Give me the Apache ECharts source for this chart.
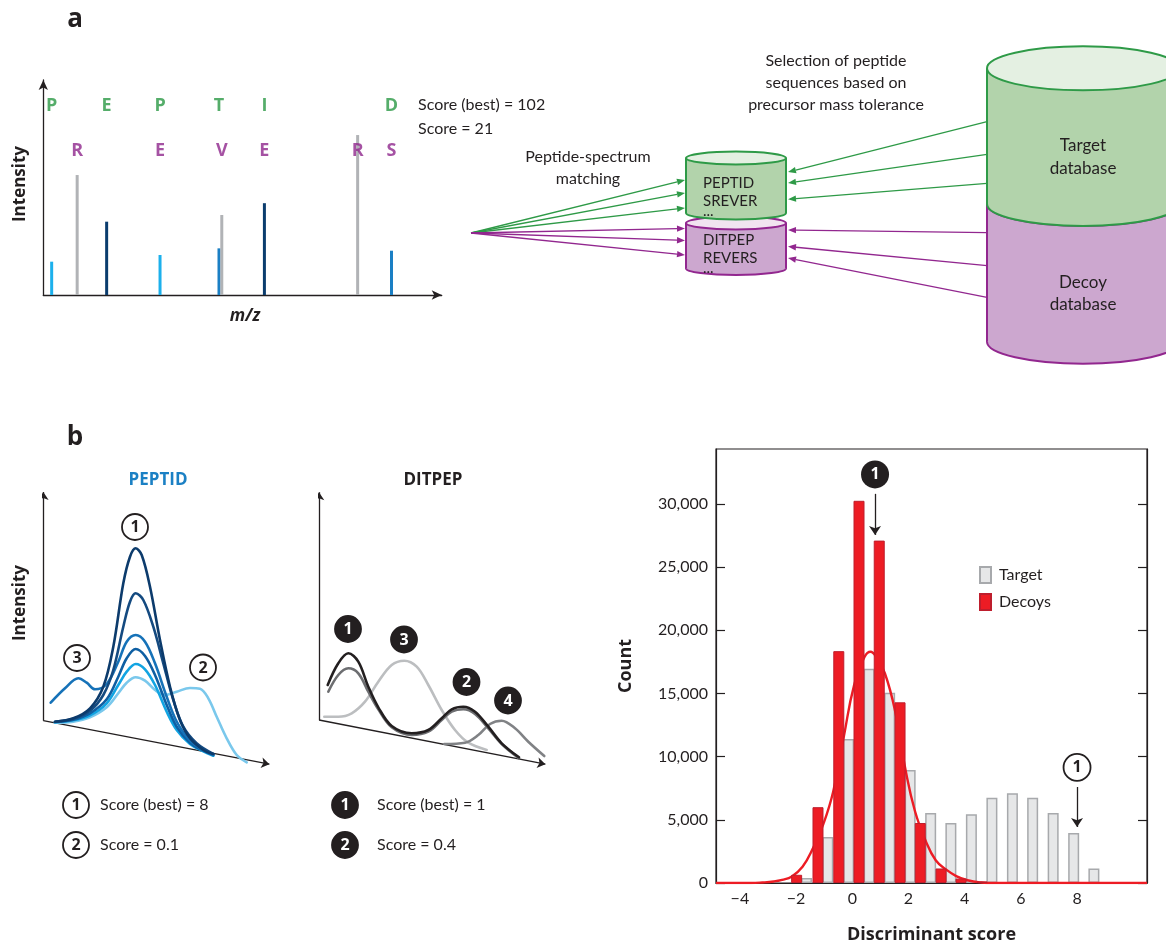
<!DOCTYPE html>
<html>
<head>
<meta charset="utf-8">
<title>Target-decoy search</title>
<script src="https://cdn.jsdelivr.net/npm/echarts@6/dist/echarts.min.js"></script>
<style>
  html, body { margin: 0; padding: 0; background: #fff; }
  #main { width: 1166px; height: 945px; }
</style>
</head>
<body>
<div id="main"></div>
<script>
const FONT = 'Lato, "Open Sans", "DejaVu Sans", sans-serif';
const HEAVY = '"Open Sans", Lato, sans-serif';
const INK = '#231f20';
const GREEN = '#2e9a47';
const PURPLE = '#92278f';

// ---- panel a: spectrum (m/z and intensity in arbitrary units 0-100)
let specMz = [2.1, 8.5, 15.9, 29.3, 44.1, 44.8, 55.5, 78.9, 87.4];
let specIntensity = [15.5, 55.8, 34.1, 18.6, 21.7, 37.2, 42.7, 74.4, 20.6];
let specKind = ['light', 'gray', 'dark', 'light', 'mid', 'gray', 'dark', 'gray', 'mid'];
let targetLetters = ['P', 'E', 'P', 'T', 'I', 'D'];
let targetLetterMz = [2.1, 15.9, 29.3, 44.1, 55.5, 87.4];
let decoyLetters = ['R', 'E', 'V', 'E', 'R', 'S'];
let decoyLetterMz = [8.5, 29.3, 44.8, 55.5, 78.9, 87.4];

// ---- panel b left: PEPTID chromatogram traces (time, intensity) incl. slanted baseline
let peptidCurve1 = [[11.7,-1.0],[30,2.4],[46.7,12.4],[60,34],[70,74],[80,137.4],[86.7,164],[92.4,172.4],[98.4,165.7],[106.7,134],[116.7,80.7],[126.7,34],[136.7,0.7],[146.7,-17.6],[160,-29.3],[170,-33.3]];
let peptidCurve2 = [[11.7,-1.0],[30,2.0],[46.7,10.0],[60,25.7],[70,50.7],[80,94],[86.7,119],[92.4,127.4],[100,120.7],[110,94],[120,57.4],[130,20.7],[140,-6.0],[153.3,-22.6],[170,-33.3]];
let peptidCurve3 = [[7.4,18.0],[21.7,32.4],[35,42.4],[43.4,38.0],[51.7,31.4],[63.4,36.7],[75,59],[83.4,79],[92.4,85.7],[101.7,79],[111.7,57.4],[123.4,24.0],[133.4,-1.0],[146.7,-20.0],[160,-29.3],[170,-34.0]];
let peptidCurve4 = [[11.7,-1.3],[30,1.0],[46.7,7.4],[63.4,21.4],[75,44],[83.4,62.4],[92.4,71.7],[101.7,64.7],[111.7,45.7],[123.4,15.7],[133.4,-6.0],[146.7,-22.0],[160,-30.0],[170,-34.3]];
let peptidCurve5 = [[11.7,-1.6],[30,0.4],[46.7,5.4],[63.4,17.4],[75,35.7],[83.4,49],[92.4,56.7],[101.7,51.4],[111.7,35.7],[123.4,9.0],[133.4,-9.3],[146.7,-23.3],[160,-30.6],[170,-35.0]];
let peptidCurve6 = [[11.7,-2.0],[30,-1.0],[46.7,3.4],[63.4,13.4],[75,27.4],[83.4,38],[92.4,43.4],[101.7,40],[111.7,30.7],[121.7,25.7],[133.4,29],[146.7,32.7],[156.7,32],[165,22.4],[173.4,4.0],[183.4,-17.6],[193.4,-34.3],[203.4,-41.6]];

// ---- panel b middle: DITPEP traces
let ditpepCurve1 = [[8.7,35],[19.3,56.7],[29.3,66.7],[39.3,58.3],[49.3,33.3],[59.3,12.7],[72.7,-6.0],[92.7,-13.3],[109.3,-10.0],[122.7,1.7],[132.7,10.7],[144.3,13.3],[156,8.3],[169.3,-6.7],[182.7,-23.3],[200,-37.3]];
let ditpepCurve2 = [[9.3,28.3],[19.3,45],[29.3,51.7],[39.3,46.7],[49.3,28.3],[59.3,10.7],[72.7,-7.3],[92.7,-15.0],[109.3,-11.7],[122.7,0],[132.7,8.3],[144.3,10.7],[156,6.0],[169.3,-8.3],[182.7,-24.0],[200,-38.3]];
let ditpepCurve3 = [[5.3,3.3],[19.3,3.3],[32.7,6.7],[46,18.3],[59.3,38.3],[72.7,55],[85.3,59.3],[97.7,53.3],[109.3,35],[122.7,10],[136,-10],[149.3,-22.7],[167.7,-30]];
let ditpepCurve4 = [[125.3,-24.0],[146,-22.7],[159.3,-15.0],[171,-4.0],[182.7,-0.7],[196,-8.3],[209.3,-21.7],[225.3,-36.0]];

// ---- panel b right: histogram of discriminant scores
let targetScore = [-1.63, -0.87, -0.13, 0.60, 1.33, 2.06, 2.79, 3.51, 4.24, 4.97, 5.70, 6.42, 7.15, 7.88, 8.60];
let targetCount = [400, 3650, 11400, 16950, 15050, 8950, 5550, 4750, 5450, 6750, 7100, 6750, 5550, 3950, 1150];
let decoyScore = [-1.98, -1.22, -0.48, 0.24, 0.96, 1.70, 2.42, 3.16, 3.87, 4.62];
let decoyCount = [650, 6000, 18350, 30250, 27100, 14300, 4750, 1150, 350, 120];
let fitScore = [-4.85, -3.6, -3.2, -2.8, -2.5, -2.15, -1.77, -1.41, -1.03, -0.68, -0.3, 0.06, 0.44, 0.65, 0.85, 1.16, 1.52, 1.9, 2.23, 2.61, 2.97, 3.35, 3.7, 4.1, 4.6, 5.0, 10.49];
let fitCount = [0, 0, 40, 120, 250, 520, 1280, 2700, 4660, 7220, 11600, 15600, 17900, 18300, 17900, 16600, 13650, 8900, 5700, 3350, 1800, 1050, 550, 220, 40, 0, 0];
let countTicks = [0, 5000, 10000, 15000, 20000, 25000, 30000];
let scoreTicks = [-4, -2, 0, 2, 4, 6, 8];

let specColor = { light: '#1cb0ec', mid: '#1a7fc4', dark: '#0b3d6e', gray: '#b1b3b6' };

// helpers for the drawn (non-data) parts
function txt(text, x, y, font, opts) {
    opts = opts || {};
    return {
        type: 'text', x: x, y: y, rotation: opts.rotation || 0, z: opts.z || 20,
        style: {
            text: text, font: font + ' ' + (opts.family || FONT), fill: opts.color || INK,
            textAlign: opts.align || 'center', textVerticalAlign: 'middle'
        }
    };
}

function arrow(x1, y1, x2, y2, color) {
    let a = Math.atan2(y2 - y1, x2 - x1);
    let len = 8, w = 3.2;
    let bx = x2 - len * Math.cos(a), by = y2 - len * Math.sin(a);
    return [
        { type: 'line', z: 15, shape: { x1: x1, y1: y1, x2: bx, y2: by }, style: { stroke: color, lineWidth: 1.3 } },
        { type: 'polygon', z: 15, shape: { points: [[x2, y2], [bx - w * Math.sin(a), by + w * Math.cos(a)], [bx + w * Math.sin(a), by - w * Math.cos(a)]] }, style: { fill: color } }
    ];
}

function badge(x, y, label, filled) {
    return [
        { type: 'circle', z: 30, shape: { cx: x, cy: y, r: 13 }, style: { fill: filled ? INK : '#fff', stroke: INK, lineWidth: 1.8 } },
        { type: 'text', z: 31, x: x, y: y + 0.5, style: { text: label, font: 'bold 16px ' + HEAVY, fill: filled ? '#fff' : INK, textAlign: 'center', textVerticalAlign: 'middle' } }
    ];
}

// cylinder: body from yTop to yBot (ellipse centers), drawn bottom part first
function cylinder(cx, rx, ry, yTop, yBot, body, top, stroke, z) {
    return [
        { type: 'ellipse', z: z, shape: { cx: cx, cy: yBot, rx: rx, ry: ry }, style: { fill: body, stroke: stroke, lineWidth: 2 } },
        { type: 'rect', z: z + 1, shape: { x: cx - rx, y: yTop, width: 2 * rx, height: yBot - yTop }, style: { fill: body } },
        { type: 'line', z: z + 2, shape: { x1: cx - rx, y1: yTop, x2: cx - rx, y2: yBot }, style: { stroke: stroke, lineWidth: 2 } },
        { type: 'line', z: z + 2, shape: { x1: cx + rx, y1: yTop, x2: cx + rx, y2: yBot }, style: { stroke: stroke, lineWidth: 2 } },
        { type: 'ellipse', z: z + 3, shape: { cx: cx, cy: yTop, rx: rx, ry: ry }, style: { fill: top, stroke: stroke, lineWidth: 2 } }
    ];
}

let graphics = [];
graphics.push(txt('a', 75, 20, 'bold 26px', { family: HEAVY }));
graphics.push(txt('b', 75, 438, 'bold 26px', { family: HEAVY }));
graphics.push(txt('Intensity', 20, 184, 'bold 17px', { rotation: Math.PI / 2, family: HEAVY }));
graphics.push(txt('m/z', 245, 316, 'italic bold 17px', { family: HEAVY }));
graphics.push(txt('Score (best) = 102', 418, 105, '16px', { align: 'left' }));
graphics.push(txt('Score = 21', 418, 129, '16px', { align: 'left' }));
graphics.push(txt('Peptide-spectrum', 588, 157, '16px'));
graphics.push(txt('matching', 588, 179, '16px'));
graphics.push(txt('Selection of peptide', 836, 61, '16px'));
graphics.push(txt('sequences based on', 836, 83, '16px'));
graphics.push(txt('precursor mass tolerance', 836, 105, '16px'));

// big database cylinder (decoy part below, target part on top)
graphics = graphics.concat(cylinder(1083, 96, 22, 204, 341.7, '#cca7cf', '#cca7cf', PURPLE, 1));
graphics = graphics.concat(cylinder(1083, 96, 22, 68.3, 204, '#b2d3ab', '#e4f0e2', GREEN, 6));
graphics.push(txt('Target', 1083, 146, '17px'));
graphics.push(txt('database', 1083, 169, '17px'));
graphics.push(txt('Decoy', 1083, 283, '17px'));
graphics.push(txt('database', 1083, 305, '17px'));

// small candidate cylinders
graphics = graphics.concat(cylinder(736, 50, 6.5, 223, 268.5, '#cca7cf', '#f1e4f0', PURPLE, 1));
graphics = graphics.concat(cylinder(736, 50, 6.5, 158, 213, '#b2d3ab', '#e4f0e2', GREEN, 6));
graphics.push(txt('PEPTID', 703, 183, '15px', { align: 'left' }));
graphics.push(txt('SREVER', 703, 201, '15px', { align: 'left' }));
graphics.push(txt('...', 703, 211, '15px', { align: 'left' }));
graphics.push(txt('DITPEP', 703, 240, '15px', { align: 'left' }));
graphics.push(txt('REVERS', 703, 258, '15px', { align: 'left' }));
graphics.push(txt('...', 703, 268, '15px', { align: 'left' }));

// matching arrows from the spectrum
[180, 193, 208].forEach(function (y) { graphics = graphics.concat(arrow(471, 233, 685, y, GREEN)); });
[228.5, 240.5, 255].forEach(function (y) { graphics = graphics.concat(arrow(471, 233, 685, y, PURPLE)); });
// selection arrows from the database
[[121.7, 172], [154.3, 183], [183.3, 199.3]].forEach(function (p) { graphics = graphics.concat(arrow(987, p[0], 788, p[1], GREEN)); });
[[232.7, 230], [265.7, 246.5], [297.3, 258]].forEach(function (p) { graphics = graphics.concat(arrow(987, p[0], 788, p[1], PURPLE)); });

// panel b schematic labels
graphics.push(txt('PEPTID', 158, 480, 'bold 17px', { color: '#1b80c4', family: HEAVY }));
graphics.push(txt('DITPEP', 433, 480, 'bold 17px', { family: HEAVY }));
graphics.push(txt('Intensity', 20, 603, 'bold 17px', { rotation: Math.PI / 2, family: HEAVY }));
graphics = graphics.concat(badge(135, 527, '1', false), badge(77, 658, '3', false), badge(203, 667.5, '2', false));
graphics = graphics.concat(badge(348, 629, '1', true), badge(404, 639.5, '3', true), badge(466.5, 682, '2', true), badge(508, 700.5, '4', true));
graphics = graphics.concat(badge(76, 805, '1', false), badge(76, 845, '2', false));
graphics.push(txt('Score (best) = 8', 100, 805, '16px', { align: 'left' }));
graphics.push(txt('Score = 0.1', 100, 845, '16px', { align: 'left' }));
graphics = graphics.concat(badge(345, 805, '1', true), badge(345, 845, '2', true));
graphics.push(txt('Score (best) = 1', 377, 805, '16px', { align: 'left' }));
graphics.push(txt('Score = 0.4', 377, 845, '16px', { align: 'left' }));

function traceSeries(data, color, gridIdx) {
    return {
        type: 'line', xAxisIndex: gridIdx, yAxisIndex: gridIdx, data: data,
        smooth: 0.35, showSymbol: false, silent: true,
        lineStyle: { color: color, width: 2.6, cap: 'round' }
    };
}

function schematicAxes(gridIdx, yTop, xEnd, yEnd) {
    return {
        type: 'lines', coordinateSystem: 'cartesian2d', xAxisIndex: gridIdx, yAxisIndex: gridIdx,
        symbol: ['none', 'arrow'], symbolSize: 8, silent: true,
        lineStyle: { color: INK, width: 1.3, opacity: 1, curveness: 0 },
        data: [{ coords: [[0, 0], [0, yTop]] }, { coords: [[0, 0], [xEnd, yEnd]] }]
    };
}

let myChart = echarts.init(document.getElementById('main'), null, { renderer: 'canvas' });

let hidden = { show: false };

let option = {
    animation: false,
    backgroundColor: '#fff',
    textStyle: { fontFamily: FONT, color: INK },
    grid: [
        { left: 43.3, top: 80, width: 398.4, height: 215 },
        { left: 43.3, top: 485.7, width: 230, height: 285 },
        { left: 319, top: 485, width: 231, height: 285 },
        { left: 716, top: 449, width: 431, height: 444.3, show: true, borderColor: INK, borderWidth: 1.2 }
    ],
    xAxis: [
        {
            gridIndex: 0, type: 'value', min: 0, max: 100,
            axisLine: { show: true, symbol: ['none', 'arrow'], symbolSize: [7, 10], lineStyle: { color: INK, width: 1.3 } },
            axisTick: hidden, axisLabel: hidden, splitLine: hidden
        },
        { gridIndex: 1, type: 'value', min: 0, max: 230, show: false },
        { gridIndex: 2, type: 'value', min: 0, max: 231, show: false },
        {
            gridIndex: 3, type: 'value', min: -4.85, max: 10.49,
            name: 'Discriminant score', nameLocation: 'middle', nameGap: 43,
            nameTextStyle: { fontSize: 18, fontWeight: 'bold', color: INK, fontFamily: HEAVY },
            axisLine: { show: true, onZero: false, lineStyle: { color: INK, width: 1.2 } },
            axisTick: { show: false },
            axisLabel: {
                customValues: scoreTicks, fontSize: 16, color: INK, margin: 8,
                formatter: function (v) { return v < 0 ? '\u2212' + Math.abs(v) : String(v); }
            },
            splitLine: hidden
        }
    ],
    yAxis: [
        {
            gridIndex: 0, type: 'value', min: 0, max: 100,
            axisLine: { show: true, symbol: ['none', 'arrow'], symbolSize: [7, 10], lineStyle: { color: INK, width: 1.3 } },
            axisTick: hidden, axisLabel: hidden, splitLine: hidden
        },
        { gridIndex: 1, type: 'value', min: -50, max: 235, show: false },
        { gridIndex: 2, type: 'value', min: -50, max: 235, show: false },
        {
            gridIndex: 3, type: 'value', min: 0, max: 34350, position: 'left',
            name: 'Count', nameLocation: 'middle', nameGap: 81,
            nameTextStyle: { fontSize: 18, fontWeight: 'bold', color: INK, fontFamily: HEAVY },
            axisLine: { show: true, onZero: false, lineStyle: { color: INK, width: 1.2 } },
            axisTick: { show: true, inside: true, length: 9, customValues: countTicks, lineStyle: { color: INK, width: 1.2 } },
            axisLabel: {
                customValues: countTicks, fontSize: 16, color: INK, margin: 8,
                formatter: function (v) { return v.toLocaleString('en-US'); }
            },
            splitLine: hidden
        },
        {
            gridIndex: 3, type: 'value', min: 0, max: 34350, position: 'right',
            axisLine: { show: true, onZero: false, lineStyle: { color: INK, width: 1.2 } },
            axisTick: { show: true, inside: true, length: 9, customValues: countTicks, lineStyle: { color: INK, width: 1.2 } },
            axisLabel: hidden, splitLine: hidden
        }
    ],
    legend: {
        data: ['Target', 'Decoys'], orient: 'vertical', left: 979, top: 566, padding: 0,
        itemWidth: 11, itemHeight: 16, itemGap: 9, icon: 'rect', selectedMode: false,
        textStyle: { fontSize: 16, color: INK, fontFamily: FONT, padding: [0, 0, 0, 3] }
    },
    graphic: { elements: graphics },
    series: [
        {
            type: 'bar', xAxisIndex: 0, yAxisIndex: 0, barWidth: 3, silent: true,
            data: specMz.map(function (m, i) {
                return { value: [m, specIntensity[i]], itemStyle: { color: specColor[specKind[i]] } };
            })
        },
        {
            type: 'scatter', xAxisIndex: 0, yAxisIndex: 0, symbolSize: 1, silent: true,
            itemStyle: { color: 'transparent' },
            label: { show: true, position: 'inside', formatter: '{b}', fontSize: 18, fontWeight: 'bold', fontFamily: HEAVY, color: '#2a9845' },
            data: targetLetters.map(function (l, i) { return { name: l, value: [targetLetterMz[i], 88.0] }; })
        },
        {
            type: 'scatter', xAxisIndex: 0, yAxisIndex: 0, symbolSize: 1, silent: true,
            itemStyle: { color: 'transparent' },
            label: { show: true, position: 'inside', formatter: '{b}', fontSize: 18, fontWeight: 'bold', fontFamily: HEAVY, color: '#8e278c' },
            data: decoyLetters.map(function (l, i) { return { name: l, value: [decoyLetterMz[i], 67.1] }; })
        },
        schematicAxes(1, 228.7, 226.1, -43.5),
        traceSeries(peptidCurve6, '#7ac8ec', 1),
        traceSeries(peptidCurve5, '#12a4e2', 1),
        traceSeries(peptidCurve4, '#0e5fa3', 1),
        traceSeries(peptidCurve3, '#1672b8', 1),
        traceSeries(peptidCurve2, '#144a80', 1),
        traceSeries(peptidCurve1, '#0c3b6c', 1),
        schematicAxes(2, 227.7, 226.4, -44.2),
        traceSeries(ditpepCurve3, '#bcbec0', 2),
        traceSeries(ditpepCurve4, '#808285', 2),
        traceSeries(ditpepCurve2, '#6d6e71', 2),
        traceSeries(ditpepCurve1, INK, 2),
        {
            name: 'Target', type: 'bar', xAxisIndex: 3, yAxisIndex: 3, barWidth: 11, barGap: '-100%', z: 2,
            itemStyle: { color: '#e6e7e8', borderColor: '#a7a9ac', borderWidth: 1.5 },
            data: targetScore.map(function (s, i) { return [s, targetCount[i]]; })
        },
        {
            type: 'line', xAxisIndex: 3, yAxisIndex: 3, z: 3, silent: true,
            smooth: 0.45, showSymbol: false,
            lineStyle: { color: '#ed1c24', width: 2.4 },
            data: fitScore.map(function (s, i) { return [s, fitCount[i]]; })
        },
        {
            name: 'Decoys', type: 'bar', xAxisIndex: 3, yAxisIndex: 3, barWidth: 11, barGap: '-100%', z: 4,
            itemStyle: { color: '#ed1c24', borderColor: '#be1e2d', borderWidth: 1 },
            data: decoyScore.map(function (s, i) { return [s, decoyCount[i]]; }),
            markLine: {
                silent: true, symbol: ['none', 'arrow'], symbolSize: 9,
                label: { show: false },
                lineStyle: { color: INK, width: 1.3, type: 'solid' },
                data: [
                    [{ coord: [0.81, 30800] }, { coord: [0.81, 27550] }],
                    [{ coord: [8.0, 7600] }, { coord: [8.0, 4430] }]
                ]
            },
            markPoint: {
                silent: true, symbol: 'circle',
                data: [
                    {
                        coord: [0.81, 32340], symbolSize: 28, itemStyle: { color: INK },
                        label: { show: true, formatter: '1', color: '#fff', fontSize: 16, fontWeight: 'bold', fontFamily: HEAVY }
                    },
                    {
                        coord: [8.0, 9150], symbolSize: 27, itemStyle: { color: '#fff', borderColor: INK, borderWidth: 1.8 },
                        label: { show: true, formatter: '1', color: INK, fontSize: 16, fontWeight: 'bold', fontFamily: HEAVY }
                    }
                ]
            }
        }
    ]
};

myChart.setOption(option);
window.addEventListener('resize', function () { myChart.resize(); });
</script>
</body>
</html>
